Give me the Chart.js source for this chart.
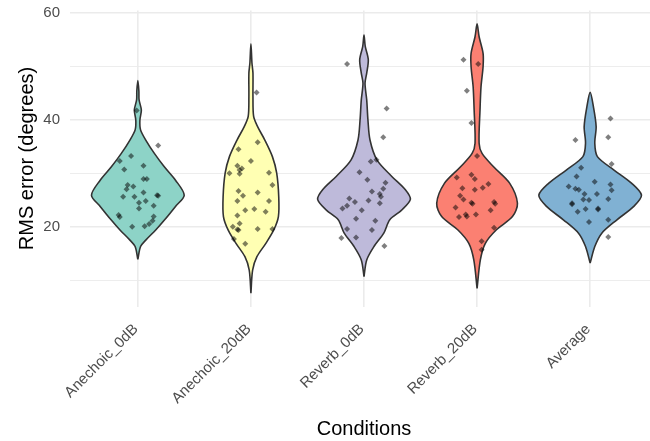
<!DOCTYPE html>
<html>
<head>
<meta charset="utf-8">
<script src="https://cdn.jsdelivr.net/npm/chart.js@4.4.1/dist/chart.umd.min.js"></script>
<style>
  html, body { margin: 0; padding: 0; background: #fff; overflow: hidden; }
  #wrap { width: 650px; height: 441px; overflow: hidden; }
</style>
</head>
<body>
<div id="wrap"><canvas id="chart" width="662" height="441"></canvas></div>
<script>
const categories = ['Anechoic_0dB', 'Anechoic_20dB', 'Reverb_0dB', 'Reverb_20dB', 'Average'];
const fillColors = ['#8dd3c7', '#ffffb3', '#bebada', '#fb8072', '#80b1d3'];

// violin outlines: y levels and half widths (in category units)
const levelsA0 = [14.0, 16.4, 17.6, 19.5, 21.4, 23.9, 26.0, 28.8, 31.3, 33.8, 36.3, 38.2, 40.0, 41.9, 43.8, 45.5, 47.4];
const widthsA0 = [0, .024, .070, .158, .237, .333, .410, .333, .234, .146, .070, .024, .018, .031, .011, .009, 0];
const levelsA20 = [7.7, 12.0, 14.5, 17.0, 19.5, 22.0, 25.7, 30.1, 33.2, 36.3, 38.8, 40.7, 44.4, 48.8, 50.7, 54.3];
const widthsA20 = [0, .015, .053, .132, .202, .243, .246, .228, .190, .123, .059, .024, .018, .018, .009, 0];
const levelsR0 = [10.8, 13.9, 16.4, 18.9, 21.4, 23.2, 25.2, 27.0, 29.5, 32.6, 36.3, 40.0, 43.8, 46.9, 48.8, 51.3, 53.8, 55.9];
const widthsR0 = [0, .024, .088, .175, .228, .333, .410, .366, .246, .114, .053, .035, .024, .009, .024, .038, .011, 0];
const levelsR20 = [8.6, 13.9, 17.0, 19.5, 22.0, 24.5, 28.2, 31.3, 33.8, 35.7, 41.9, 46.3, 50.0, 52.5, 55.6, 58.0];
const widthsR20 = [0, .029, .073, .169, .313, .357, .289, .146, .044, .018, .026, .035, .053, .053, .018, 0];
const levelsAvg = [13.3, 16.4, 18.9, 21.4, 23.9, 26.0, 28.2, 30.7, 33.2, 35.7, 38.8, 42.5, 45.2];
const widthsAvg = [0, .041, .103, .237, .386, .454, .368, .211, .064, .041, .053, .029, 0];

// jittered observations: RMS error and horizontal jitter
const errA0 = [41.8, 35.3, 32.4, 33.3, 30.8, 31.5, 29.0, 29.0, 27.9, 27.6, 27.1, 26.5, 25.7, 25.7, 26.0, 25.9, 24.6, 24.9, 23.5, 24.0, 22.3, 21.9, 22.0, 21.2, 20.6, 20.2, 20.1];
const jitA0 = [-0.01, 0.18, -0.16, -0.06, -0.12, 0.05, 0.05, 0.08, -0.09, -0.04, -0.10, 0.05, -0.13, -0.03, 0.17, 0.18, 0.01, 0.07, 0.01, 0.14, -0.17, -0.16, 0.14, 0.13, 0.10, 0.06, -0.05];
const errA20 = [45.2, 35.9, 34.6, 32.4, 31.5, 31.0, 30.7, 30.1, 30.0, 30.2, 27.9, 26.8, 26.5, 25.9, 24.9, 24.9, 23.2, 23.4, 22.9, 22.2, 20.7, 20.1, 19.6, 19.5, 19.7, 19.7, 17.8, 16.9];
const jitA20 = [0.05, 0.06, -0.11, 0.00, -0.12, -0.08, -0.10, -0.19, -0.10, 0.16, 0.19, -0.11, 0.06, -0.07, -0.12, 0.16, -0.05, 0.03, 0.13, -0.12, -0.10, -0.16, -0.12, -0.11, 0.06, 0.19, -0.15, -0.05];
const errR0 = [50.5, 42.2, 36.8, 32.6, 32.3, 30.3, 28.9, 28.3, 27.2, 26.7, 26.2, 25.7, 25.4, 25.0, 24.7, 24.5, 24.0, 23.5, 23.2, 21.6, 21.2, 19.5, 19.7, 18.0, 18.1, 16.5];
const jitR0 = [-0.15, 0.20, 0.17, 0.11, 0.06, -0.04, 0.03, 0.19, 0.17, 0.07, 0.14, 0.15, -0.13, 0.04, -0.08, 0.14, -0.15, -0.19, -0.02, -0.07, 0.10, 0.07, -0.15, -0.20, -0.07, 0.18];
const errR20 = [51.3, 50.5, 45.5, 39.5, 33.3, 29.3, 29.8, 29.0, 27.3, 27.0, 27.4, 28.1, 25.9, 25.2, 24.6, 24.4, 24.7, 24.4, 23.7, 23.2, 22.4, 22.4, 21.9, 22.0, 19.9, 17.4, 15.8];
const jitR20 = [-0.12, 0.01, -0.09, -0.05, 0.00, -0.18, -0.05, -0.02, -0.13, -0.02, 0.05, 0.10, -0.15, -0.12, -0.05, -0.04, 0.15, 0.16, -0.19, 0.12, -0.01, -0.10, -0.16, -0.09, 0.15, 0.04, 0.04];
const errAvg = [40.3, 36.3, 36.8, 31.8, 31.1, 29.5, 28.5, 27.6, 28.0, 27.2, 27.0, 26.9, 26.2, 26.2, 25.2, 25.1, 25.3, 24.5, 24.3, 23.4, 23.5, 23.3, 22.9, 21.4, 21.0, 18.2];
const jitAvg = [0.18, -0.13, 0.16, 0.19, -0.08, -0.12, 0.04, -0.19, 0.18, -0.13, -0.10, 0.19, -0.05, 0.06, -0.06, -0.01, 0.16, -0.16, -0.16, -0.04, 0.07, 0.07, -0.11, 0.16, -0.01, 0.16];

const yTicks = [10, 20, 30, 40, 50, 60];

const levels = [levelsA0, levelsA20, levelsR0, levelsR20, levelsAvg];
const widths = [widthsA0, widthsA20, widthsR0, widthsR20, widthsAvg];
const errors = [errA0, errA20, errR0, errR20, errAvg];
const jitters = [jitA0, jitA20, jitR0, jitR20, jitAvg];

const FONT = "'Liberation Sans', Arial, sans-serif";

let datasets = [];

// points on top
let pts = [];
errors.forEach((vals, i) => {
  vals.forEach((v, j) => pts.push({x: i + jitters[i][j], y: v}));
});
datasets.push({
  type: 'scatter',
  data: pts,
  order: 0,
  pointStyle: 'rectRot',
  pointRadius: 3,
  pointBorderWidth: 0,
  pointBackgroundColor: 'rgba(0,0,0,0.5)',
  pointBorderColor: 'rgba(0,0,0,0)'
});

// violins: right side going up, left side coming down
levels.forEach((lv, i) => {
  let outline = [];
  for (let k = 0; k < lv.length; k++) outline.push({x: i + widths[i][k], y: lv[k]});
  for (let k = lv.length - 2; k >= 0; k--) outline.push({x: i - widths[i][k], y: lv[k]});
  datasets.push({
    type: 'line',
    data: outline,
    order: 1,
    fill: 'shape',
    backgroundColor: fillColors[i],
    borderColor: '#333333',
    borderWidth: 1.6,
    pointRadius: 0,
    tension: 0.3
  });
});

new Chart(document.getElementById('chart'), {
  type: 'line',
  data: { datasets: datasets },
  options: {
    responsive: false,
    animation: false,
    layout: { padding: { top: 10.5, left: 0, right: 0, bottom: 0 } },
    plugins: {
      legend: { display: false },
      tooltip: { enabled: false }
    },
    scales: {
      x: {
        type: 'linear',
        min: -0.6,
        max: 4.6,
        afterBuildTicks: (scale) => { scale.ticks = categories.map((c, i) => ({value: i})); },
        afterFit: (scale) => {
          scale.height = 134.5;
          scale.paddingLeft = 0;
          scale.paddingRight = 0;
        },
        grid: { color: '#ebebeb', lineWidth: 1.6, drawTicks: false },
        border: { display: false },
        ticks: {
          autoSkip: false,
          minRotation: 45,
          maxRotation: 45,
          padding: 14,
          labelOffset: -2,
          color: '#4d4d4d',
          font: { family: FONT, size: 15 },
          callback: (v) => categories[v]
        },
        title: {
          display: true,
          text: 'Conditions',
          color: '#000',
          font: { family: FONT, size: 20 },
          padding: { top: 0, bottom: 0 }
        }
      },
      y: {
        min: 5.2,
        max: 60.5,
        afterBuildTicks: (scale) => { scale.ticks = yTicks.map(v => ({value: v})); },
        afterFit: (scale) => {
          scale.width = 70;
          scale.paddingTop = 0;
          scale.paddingBottom = 0;
        },
        grid: {
          color: '#ebebeb',
          lineWidth: (ctx) => (ctx.tick && ctx.tick.value % 20 === 0) ? 1.6 : 0.9,
          drawTicks: false
        },
        border: { display: false },
        ticks: {
          padding: 10,
          color: '#4d4d4d',
          font: { family: FONT, size: 15 },
          callback: (v) => (v % 20 === 0 ? v : '')
        },
        title: {
          display: true,
          text: 'RMS error (degrees)',
          color: '#000',
          font: { family: FONT, size: 20 },
          padding: { top: 15, bottom: 0 }
        }
      }
    }
  }
});
</script>
</body>
</html>
